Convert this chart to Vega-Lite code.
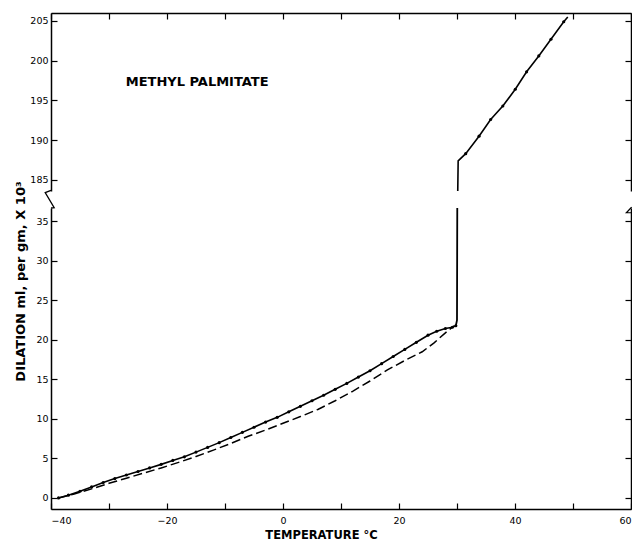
{
  "$schema": "https://vega.github.io/schema/vega-lite/v6.json",
  "padding": {"left": 13, "top": 12, "right": 0, "bottom": 0},
  "background": "white",
  "bounds": "flush",
  "spacing": 17,
  "datasets": {
    "heating": [
      {"T": -38.7, "v": 0.0}, {"T": -37, "v": 0.35}, {"T": -35, "v": 0.85}, {"T": -33, "v": 1.4},
      {"T": -31, "v": 1.95}, {"T": -29, "v": 2.45}, {"T": -27, "v": 2.9}, {"T": -25, "v": 3.35},
      {"T": -23, "v": 3.8}, {"T": -21, "v": 4.25}, {"T": -19, "v": 4.75}, {"T": -17, "v": 5.2},
      {"T": -15, "v": 5.8}, {"T": -13, "v": 6.4}, {"T": -11, "v": 7.0}, {"T": -9, "v": 7.65},
      {"T": -7, "v": 8.3}, {"T": -5, "v": 8.95}, {"T": -3, "v": 9.6}, {"T": -1, "v": 10.2},
      {"T": 1, "v": 10.9}, {"T": 3, "v": 11.6}, {"T": 5, "v": 12.3}, {"T": 7, "v": 13.0},
      {"T": 9, "v": 13.75}, {"T": 11, "v": 14.5}, {"T": 13, "v": 15.3}, {"T": 15, "v": 16.1},
      {"T": 17, "v": 17.0}, {"T": 19, "v": 17.9}, {"T": 21, "v": 18.8}, {"T": 23, "v": 19.7},
      {"T": 25, "v": 20.6}, {"T": 26.5, "v": 21.1}, {"T": 28, "v": 21.45}, {"T": 29.2, "v": 21.6},
      {"T": 29.8, "v": 21.8}
    ],
    "cooling": [
      {"T": -38.7, "v": 0.0}, {"T": -36, "v": 0.5}, {"T": -33, "v": 1.15}, {"T": -30, "v": 1.85},
      {"T": -27, "v": 2.5}, {"T": -24, "v": 3.15}, {"T": -21, "v": 3.8}, {"T": -18, "v": 4.5},
      {"T": -15, "v": 5.25}, {"T": -12, "v": 6.05}, {"T": -9, "v": 6.9}, {"T": -6, "v": 7.8},
      {"T": -3, "v": 8.6}, {"T": 0, "v": 9.45}, {"T": 3, "v": 10.3}, {"T": 6, "v": 11.2},
      {"T": 9, "v": 12.3}, {"T": 12, "v": 13.5}, {"T": 15, "v": 14.8}, {"T": 18, "v": 16.2},
      {"T": 21, "v": 17.4}, {"T": 24, "v": 18.5}, {"T": 26, "v": 19.6}, {"T": 28, "v": 20.9},
      {"T": 29.5, "v": 21.8}
    ],
    "jumpLow": [
      {"T": 29.8, "v": 21.8}, {"T": 30.0, "v": 22.5}, {"T": 30.05, "v": 37.5}
    ],
    "breakLeft": [
      {"T": -40, "v": 38.94}, {"T": -41.0, "v": 38.64}, {"T": -39.45, "v": 36.75}, {"T": -40, "v": 36.7}
    ],
    "breakRight": [
      {"T": 60.1, "v": 36.8}, {"T": 59.2, "v": 36.1}, {"T": 60.0, "v": 36.1}
    ],
    "upper": [
      {"T": 30.1, "v": 182.0}, {"T": 30.2, "v": 187.4}, {"T": 31.5, "v": 188.3}, {"T": 33.8, "v": 190.5},
      {"T": 35.8, "v": 192.6}, {"T": 37.9, "v": 194.3}, {"T": 40.05, "v": 196.4}, {"T": 42.0, "v": 198.6},
      {"T": 44.1, "v": 200.6}, {"T": 46.2, "v": 202.7}, {"T": 48.4, "v": 204.9}, {"T": 49.1, "v": 205.5}
    ],
    "upperDots": [
      {"T": 31.5, "v": 188.3}, {"T": 33.8, "v": 190.5}, {"T": 35.8, "v": 192.6}, {"T": 37.9, "v": 194.3},
      {"T": 40.05, "v": 196.4}, {"T": 42.0, "v": 198.6}, {"T": 44.1, "v": 200.6}, {"T": 46.2, "v": 202.7},
      {"T": 48.4, "v": 204.9}
    ],
    "label": [
      {"T": -14.8, "v": 197.3, "text": "METHYL  PALMITATE"}
    ]
  },
  "vconcat": [
    {
      "width": 580,
      "height": 178,
      "encoding": {
        "x": {"field": "T", "type": "quantitative",
              "scale": {"domain": [-40, 60], "nice": false, "zero": false},
              "axis": {"orient": "top", "values": [-40, -30, -20, -10, 0, 10, 20, 30, 40, 50, 60], "labels": false, "title": null}}
      },
      "layer": [
        {
          "data": {"name": "upper"},
          "mark": {"type": "line", "color": "black", "strokeWidth": 1.6, "clip": true},
          "encoding": {
            "y": {"field": "v", "type": "quantitative",
                  "scale": {"domain": [183.6, 206], "nice": false, "zero": false},
                  "axis": {"orient": "left", "values": [185, 190, 195, 200, 205], "title": null}}
          }
        },
        {
          "data": {"name": "upperDots"},
          "mark": {"type": "point", "filled": true, "size": 10, "color": "black", "opacity": 1},
          "encoding": {
            "y": {"field": "v", "type": "quantitative", "axis": null}
          }
        },
        {
          "data": {"name": "label"},
          "mark": {"type": "text", "font": "DejaVu Sans", "fontSize": 13, "fontWeight": "bold", "color": "black", "align": "center", "baseline": "middle"},
          "encoding": {
            "y": {"field": "v", "type": "quantitative", "axis": null},
            "text": {"field": "text"}
          }
        },
        {
          "data": {"name": "upper"},
          "mark": {"type": "line", "opacity": 0},
          "encoding": {
            "y": {"field": "v", "type": "quantitative",
                  "axis": {"orient": "right", "values": [185, 190, 195, 200, 205], "labels": false, "title": null}}
          }
        }
      ],
      "resolve": {"axis": {"y": "independent"}}
    },
    {
      "width": 580,
      "height": 301,
      "encoding": {
        "x": {"field": "T", "type": "quantitative",
              "scale": {"domain": [-40, 60], "nice": false, "zero": false},
              "axis": {"orient": "bottom", "values": [-40, -30, -20, -10, 0, 10, 20, 30, 40, 50, 60],
                       "labelExpr": "datum.value % 20 == 0 ? datum.label : ''", "labelPadding": 12,
                       "title": "TEMPERATURE °C", "titleX": 270, "titleAlign": "center", "titlePadding": 5, "titleFontSize": 11.5}}
      },
      "layer": [
        {
          "data": {"name": "heating"},
          "mark": {"type": "line", "color": "black", "strokeWidth": 1.6,
                   "point": {"filled": true, "size": 10, "color": "black"}},
          "encoding": {
            "y": {"field": "v", "type": "quantitative",
                  "scale": {"domain": [-1.4, 36.7], "nice": false, "zero": false},
                  "axis": {"orient": "left", "values": [0, 5, 10, 15, 20, 25, 30, 35],
                           "title": "DILATION   ml, per gm, X 10³", "titleX": -31, "titleY": 73,
                           "titleAngle": 270, "titleAlign": "center", "titleBaseline": "middle", "titleFontSize": 13}}
          }
        },
        {
          "data": {"name": "cooling"},
          "mark": {"type": "line", "color": "black", "strokeWidth": 1.5, "strokeDash": [9, 4]},
          "encoding": {
            "y": {"field": "v", "type": "quantitative", "axis": null}
          }
        },
        {
          "data": {"name": "jumpLow"},
          "mark": {"type": "line", "color": "black", "strokeWidth": 1.8, "clip": true},
          "encoding": {
            "y": {"field": "v", "type": "quantitative", "axis": null}
          }
        },
        {
          "data": {"name": "breakLeft"},
          "mark": {"type": "line", "color": "black", "strokeWidth": 1.3, "clip": false},
          "encoding": {
            "order": {"field": "idx"},
            "y": {"field": "v", "type": "quantitative", "axis": null}
          }
        },
        {
          "data": {"name": "breakRight"},
          "mark": {"type": "line", "color": "black", "strokeWidth": 1.2, "clip": false},
          "encoding": {
            "order": {"field": "idx"},
            "y": {"field": "v", "type": "quantitative", "axis": null}
          }
        },
        {
          "data": {"name": "heating"},
          "mark": {"type": "line", "opacity": 0},
          "encoding": {
            "y": {"field": "v", "type": "quantitative",
                  "axis": {"orient": "right", "values": [0, 5, 10, 15, 20, 25, 30, 35], "labels": false, "title": null}}
          }
        }
      ],
      "resolve": {"axis": {"y": "independent"}}
    }
  ],
  "config": {
    "view": {"stroke": null},
    "axis": {
      "grid": false,
      "domainColor": "black", "domainWidth": 1.5,
      "tickColor": "black", "tickWidth": 1.2, "tickSize": -6,
      "labelColor": "black", "labelFont": "DejaVu Sans", "labelFontSize": 9.5, "labelPadding": 9,
      "titleColor": "black", "titleFont": "DejaVu Sans", "titleFontWeight": "bold", "titleFontSize": 11
    }
  }
}
